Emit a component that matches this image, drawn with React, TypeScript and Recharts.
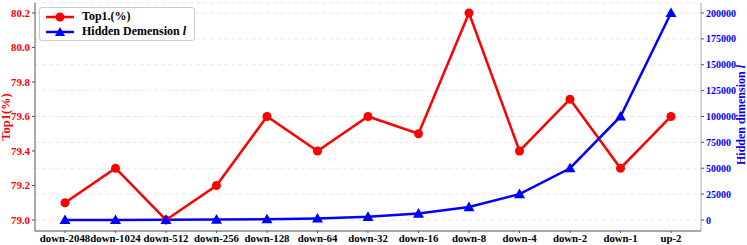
import { LineChart, Line, XAxis, YAxis, CartesianGrid } from 'recharts';

const categories = [
  'down-2048', 'down-1024', 'down-512', 'down-256', 'down-128', 'down-64', 'down-32',
  'down-16', 'down-8', 'down-4', 'down-2', 'down-1', 'up-2',
];
const top1 = [79.1, 79.3, 79.0, 79.2, 79.6, 79.4, 79.6, 79.5, 80.2, 79.4, 79.7, 79.3, 79.6];
const hiddenDim = [49, 98, 195, 390, 781, 1562, 3125, 6250, 12500, 25000, 50000, 100000, 200000];
const leftTicks = [79.0, 79.2, 79.4, 79.6, 79.8, 80.0, 80.2];
const rightTicks = [0, 25000, 50000, 75000, 100000, 125000, 150000, 175000, 200000];

const FONT = '"Liberation Serif", "Times New Roman", serif';

const data = categories.map((name, i) => ({ name, top1: top1[i], dim: hiddenDim[i] }));

const Triangle = (props: any) => {
  const { cx, cy, fill } = props;
  if (cx == null || cy == null) return null;
  const s = 5.5;
  return (
    <polygon
      points={`${cx},${cy - s} ${cx - s},${cy + s * 0.75} ${cx + s},${cy + s * 0.75}`}
      fill={fill}
    />
  );
};

const LegendBox = () => (
  <div
    style={{
      position: 'absolute',
      left: 39,
      top: 7,
      border: '1px solid #ccc',
      borderRadius: 3,
      background: 'white',
      padding: '1px 8px 1px 6px',
      fontFamily: FONT,
      fontWeight: 'bold',
      fontSize: 12,
      lineHeight: '15px',
    }}
  >
    <div style={{ display: 'flex', alignItems: 'center' }}>
      <svg width={30} height={12}>
        <line x1={0} y1={6} x2={28} y2={6} stroke="#ff0000" strokeWidth={2.5} />
        <circle cx={14} cy={6} r={4.5} fill="#ff0000" />
      </svg>
      <span style={{ marginLeft: 6 }}>Top1.(%)</span>
    </div>
    <div style={{ display: 'flex', alignItems: 'center' }}>
      <svg width={30} height={12}>
        <line x1={0} y1={6} x2={28} y2={6} stroke="#0000ff" strokeWidth={2.5} />
        <polygon points="14,1 9,10 19,10" fill="#0000ff" />
      </svg>
      <span style={{ marginLeft: 6 }}>
        Hidden Demension <i>l</i>
      </span>
    </div>
  </div>
);

const RightLabel = () => (
  <text
    x={740.5}
    y={115}
    transform="rotate(-90 740.5 115)"
    textAnchor="middle"
    dominantBaseline="central"
    fill="#0000ff"
    fontFamily={FONT}
    fontWeight="bold"
    fontSize={12}
  >
    Hidden dimension <tspan fontStyle="italic">l</tspan>
  </text>
);

const LeftLabel = () => (
  <text
    x={6}
    y={117}
    transform="rotate(-90 6 117)"
    textAnchor="middle"
    dominantBaseline="central"
    fill="#ff0000"
    fontFamily={FONT}
    fontWeight="bold"
    fontSize={12.5}
  >
    Top1(%)
  </text>
);

export default function App() {
  return (
    <div style={{ position: 'fixed', left: 0, top: 0, background: 'white' }}>
      <LineChart width={747} height={245} data={data} margin={{ top: 3, right: 0, bottom: 0, left: 0 }}>
        <CartesianGrid
          yAxisId="right"
          vertical={false}
          horizontal
          stroke="#e8e8e8"
          strokeDasharray="4 3"
        />
        <XAxis
          dataKey="name"
          height={14}
          interval={0}
          padding={{ left: 30, right: 30 }}
          tick={{ fill: '#000', fontSize: 10.8, fontWeight: 'bold', fontFamily: FONT }}
          tickSize={2}
          tickMargin={1}
          axisLine={{ stroke: '#555' }}
          tickLine={{ stroke: '#555' }}
        />
        <XAxis
          xAxisId="top"
          orientation="top"
          dataKey="name"
          height={0}
          tick={false}
          tickLine={false}
          axisLine={{ stroke: '#aaa' }}
        />
        <YAxis
          yAxisId="left"
          width={35}
          domain={[78.936, 80.258]}
          ticks={leftTicks}
          tickFormatter={(v: number) => v.toFixed(1)}
          tick={{ fill: '#ff0000', fontSize: 10.8, fontWeight: 'bold', fontFamily: FONT }}
          tickSize={3}
          tickMargin={2}
          axisLine={{ stroke: '#555' }}
          tickLine={{ stroke: '#555' }}
          allowDataOverflow
          label={<LeftLabel />}
        />
        <YAxis
          yAxisId="right"
          orientation="right"
          width={46}
          domain={[-10630, 209660]}
          ticks={rightTicks}
          tick={{ fill: '#0000ff', fontSize: 10, fontWeight: 'bold', fontFamily: FONT, textAnchor: 'start' }}
          tickSize={3}
          tickMargin={2}
          axisLine={{ stroke: '#aaa' }}
          tickLine={{ stroke: '#555' }}
          allowDataOverflow
          label={<RightLabel />}
        />
        <Line
          yAxisId="left"
          dataKey="top1"
          stroke="#ff0000"
          strokeWidth={2.5}
          dot={{ r: 4.5, fill: '#ff0000', stroke: '#ff0000', strokeWidth: 0 }}
          isAnimationActive={false}
        />
        <Line
          yAxisId="right"
          dataKey="dim"
          stroke="#0000ff"
          strokeWidth={2.5}
          dot={<Triangle fill="#0000ff" />}
          isAnimationActive={false}
        />
      </LineChart>
      <LegendBox />
    </div>
  );
}
